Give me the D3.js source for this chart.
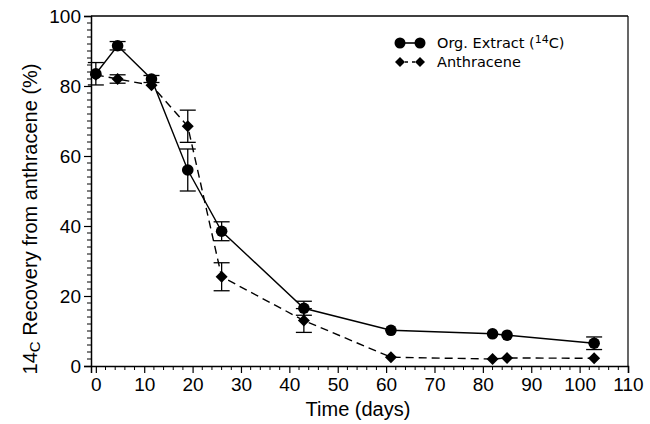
<!DOCTYPE html>
<html>
<head>
<meta charset="utf-8">
<script src="https://cdn.jsdelivr.net/npm/d3@7"></script>
<style>
  body { margin: 0; background: #fff; }
  text { font-family: "Liberation Sans", Arial, sans-serif; fill: #000; }
</style>
</head>
<body>
<div id="chart"></div>
<script>
// data
let days = [0, 4.5, 11.5, 19, 26, 43, 61, 82, 85, 103]
let extractVals = [83.5, 91.5, 82, 56, 38.5, 16.5, 10.2, 9.2, 8.8, 6.5]
let extractErr = [3.2, 1.2, 1, 6, 2.7, 2, 0, 0, 0, 1.8]
let anthDays = [0, 4.5, 11.5, 19, 26, 43, 61, 82, 85, 103]
let anthVals = [83.2, 82, 80.2, 68.5, 25.5, 13, 2.5, 2, 2.3, 2.2]
let anthErr = [0, 1.2, 0, 4.6, 4, 3.4, 0, 0, 0, 0]
let xTicks = [0, 10, 20, 30, 40, 50, 60, 70, 80, 90, 100, 110]
let yTicks = [0, 20, 40, 60, 80, 100]

let svgWidth = 650,
    svgHeight = 424

let margin = { top: 16, right: 22, bottom: 58, left: 91 }
let width = svgWidth - margin.left - margin.right
let height = svgHeight - margin.top - margin.bottom

let svg = d3.select("#chart")
  .append("svg")
  .attr("width", svgWidth)
  .attr("height", svgHeight)

let chartGroup = svg.append("g")
  .attr("transform", `translate(${margin.left}, ${margin.top})`)

let xScale = d3.scaleLinear().domain([-1, 110]).range([0, width])
let yScale = d3.scaleLinear().domain([0, 100]).range([height, 0])

// minor ticks (every 2 units)
let xMinor = d3.range(0, 111, 2).filter(v => v % 10 !== 0)
let yMinor = d3.range(0, 101, 2).filter(v => v % 20 !== 0)

let bottomAxis = d3.axisBottom(xScale).tickValues(xTicks).tickSize(7).tickPadding(5)
let leftAxis = d3.axisLeft(yScale).tickValues(yTicks).tickSize(7).tickPadding(3)

let xAxis = chartGroup.append("g")
  .attr("transform", `translate(0, ${height})`)
  .call(bottomAxis)
xAxis.append("g").selectAll("line")
  .data(xMinor)
  .enter()
  .append("line")
  .attr("x1", d => xScale(d)).attr("x2", d => xScale(d))
  .attr("y1", 0).attr("y2", 4)
  .attr("stroke", "#000")

let yAxis = chartGroup.append("g").call(leftAxis)
yAxis.append("g").selectAll("line")
  .data(yMinor)
  .enter()
  .append("line")
  .attr("y1", d => yScale(d)).attr("y2", d => yScale(d))
  .attr("x1", 0).attr("x2", -4)
  .attr("stroke", "#000")

chartGroup.selectAll(".domain").attr("stroke-width", 1.5)
chartGroup.selectAll(".tick line").attr("stroke-width", 1.2)
chartGroup.selectAll(".tick text")
  .attr("font-size", 19)
  .attr("fill", "#000")
  .style("font-family", "'Liberation Sans', Arial, sans-serif")

// top and right frame
chartGroup.append("line")
  .attr("x1", 0).attr("x2", width).attr("y1", 0).attr("y2", 0)
  .attr("stroke", "#000").attr("stroke-width", 1.3)
chartGroup.append("line")
  .attr("x1", width).attr("x2", width).attr("y1", 0).attr("y2", height)
  .attr("stroke", "#000").attr("stroke-width", 1.2)

let extract = days.map((d, i) => ({ x: d, y: extractVals[i], e: extractErr[i] }))
let anth = anthDays.map((d, i) => ({ x: d, y: anthVals[i], e: anthErr[i] }))

let line = d3.line().x(d => xScale(d.x)).y(d => yScale(d.y))

// error bars
function drawErrors(data) {
  let g = chartGroup.append("g")
    .attr("stroke", "#000")
    .attr("stroke-width", 1.3)
  let withErr = data.filter(d => d.e > 0)
  g.selectAll(".v").data(withErr).enter().append("line")
    .attr("x1", d => xScale(d.x)).attr("x2", d => xScale(d.x))
    .attr("y1", d => yScale(d.y - d.e)).attr("y2", d => yScale(d.y + d.e))
  g.selectAll(".top").data(withErr).enter().append("line")
    .attr("x1", d => xScale(d.x) - 8).attr("x2", d => xScale(d.x) + 8)
    .attr("y1", d => yScale(d.y + d.e)).attr("y2", d => yScale(d.y + d.e))
  g.selectAll(".bot").data(withErr).enter().append("line")
    .attr("x1", d => xScale(d.x) - 8).attr("x2", d => xScale(d.x) + 8)
    .attr("y1", d => yScale(d.y - d.e)).attr("y2", d => yScale(d.y - d.e))
}
drawErrors(anth)
drawErrors(extract)

chartGroup.append("path")
  .datum(anth)
  .attr("d", line)
  .attr("fill", "none")
  .attr("stroke", "#000")
  .attr("stroke-width", 1.4)
  .attr("stroke-dasharray", "8,5")

chartGroup.append("path")
  .datum(extract)
  .attr("d", line)
  .attr("fill", "none")
  .attr("stroke", "#000")
  .attr("stroke-width", 1.4)

// square turned 45 degrees gives an even diamond
let diamond = d3.symbol().type(d3.symbolSquare).size(72)

chartGroup.selectAll(".diamond")
  .data(anth)
  .enter()
  .append("path")
  .attr("d", diamond)
  .attr("transform", d => `translate(${xScale(d.x)}, ${yScale(d.y)}) rotate(45)`)
  .attr("fill", "#000")

chartGroup.selectAll("circle")
  .data(extract)
  .enter()
  .append("circle")
  .attr("cx", d => xScale(d.x))
  .attr("cy", d => yScale(d.y))
  .attr("r", 5.8)
  .attr("fill", "#000")

// legend
let legend = svg.append("g").attr("transform", "translate(400, 43)")
legend.append("line")
  .attr("x1", 0).attr("x2", 20).attr("y1", 0).attr("y2", 0)
  .attr("stroke", "#000").attr("stroke-width", 1.6)
legend.selectAll("circle").data([0, 20]).enter().append("circle")
  .attr("cx", d => d).attr("cy", 0).attr("r", 5.5).attr("fill", "#000")
legend.append("line")
  .attr("x1", 0).attr("x2", 20).attr("y1", 19).attr("y2", 19)
  .attr("stroke", "#000").attr("stroke-width", 1.4)
  .attr("stroke-dasharray", "3,4").attr("stroke-dashoffset", -5)
legend.selectAll(".ld").data([0, 20]).enter().append("path")
  .attr("d", d3.symbol().type(d3.symbolSquare).size(50))
  .attr("transform", d => `translate(${d}, 19) rotate(45)`)
  .attr("fill", "#000")
let lt = legend.append("text")
  .attr("x", 37).attr("y", 5)
  .attr("font-size", 14.5)
  .style("font-family", "'DejaVu Sans', Verdana, sans-serif")
lt.append("tspan").text("Org. Extract (")
lt.append("tspan").attr("font-size", 11).attr("dy", -5).text("14")
lt.append("tspan").attr("dy", 5).text("C)")
legend.append("text")
  .attr("x", 37).attr("y", 24)
  .attr("font-size", 14.5)
  .style("font-family", "'DejaVu Sans', Verdana, sans-serif")
  .text("Anthracene")

// axis titles
svg.append("text")
  .attr("x", 358)
  .attr("y", 416)
  .attr("text-anchor", "middle")
  .attr("font-size", 20)
  .text("Time (days)")

let yTitle = svg.append("text")
  .attr("transform", "translate(37, 219) rotate(-90)")
  .attr("text-anchor", "middle")
  .attr("font-size", 20)
yTitle.append("tspan").text("14")
yTitle.append("tspan").attr("font-size", 15).attr("dy", 3).text("C")
yTitle.append("tspan").attr("dy", -3).text(" Recovery from anthracene (%)")
</script>
</body>
</html>
